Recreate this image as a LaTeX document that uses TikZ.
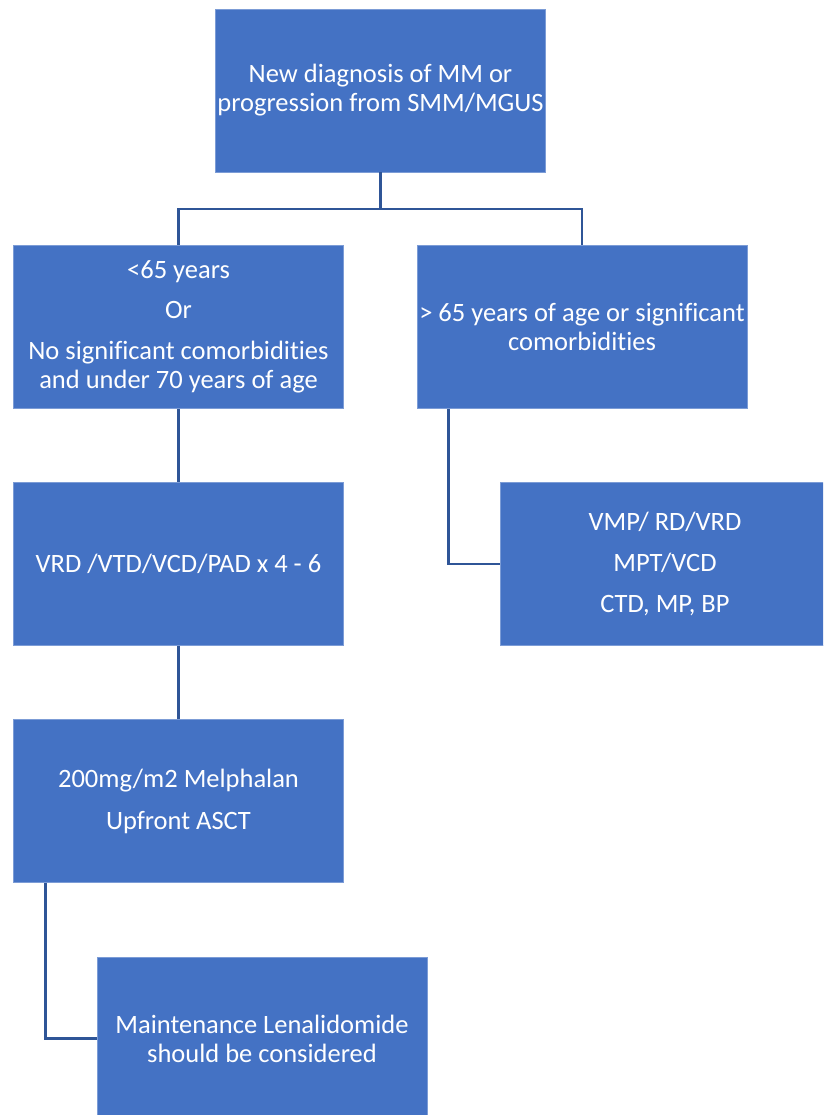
\documentclass[tikz,border=0pt]{standalone}
\usepackage{fontspec}
\setmainfont{Carlito}[Ligatures={NoCommon}]
\definecolor{boxblue}{HTML}{4472C4}
\definecolor{linkblue}{HTML}{2F5597}
\begin{document}
\begin{tikzpicture}[x=1pt,y=-1pt,
  box/.style={rectangle, fill=boxblue, draw=boxblue!70!white, line width=0.6pt,
    minimum width=330pt, minimum height=163pt, inner sep=0pt, text=white,
    align=center, font=\fontsize{26.5}{29}\selectfont},
  link/.style={draw=linkblue, line width=2.6pt}]
\useasboundingbox (0,0) rectangle (823,1115);
\begin{scope}
\clip (0,0) rectangle (823,1115);
\node[box] (top) at (380.5,90.5) {New diagnosis of MM or\\progression from SMM/MGUS};
\node[box] (L1) at (178.5,327) {<65 years\\[11pt]Or\\[12pt]No significant comorbidities\\and under 70 years of age};
\node[box] (R1) at (582,327) {> 65 years of age or significant\\comorbidities};
\node[box] (L2) at (178.5,564) {VRD /VTD/VCD/PAD x 4 - 6};
\node[box] (R2) at (665,564) {VMP/ RD/VRD\\[12pt]MPT/VCD\\[12pt]CTD, MP, BP};
\node[box] (L3) at (178.5,801) {200mg/m2 Melphalan\\[13pt]Upfront ASCT};
\node[box] (B4) at (262,1038.5) {Maintenance Lenalidomide\\should be considered};
\coordinate (j) at (380.5,209);
\draw[link] (top.south) -- (j);
\draw[link] (j) -| (L1.north);
\draw[link] (j) -| (R1.north);
\draw[link] (L1.south) -- (L2.north);
\draw[link] (L2.south) -- (L3.north);
\draw[link] ([xshift=32pt]R1.south west) |- (R2.west);
\draw[link] ([xshift=32pt]L3.south west) |- (B4.west);
\end{scope}
\end{tikzpicture}
\end{document}
